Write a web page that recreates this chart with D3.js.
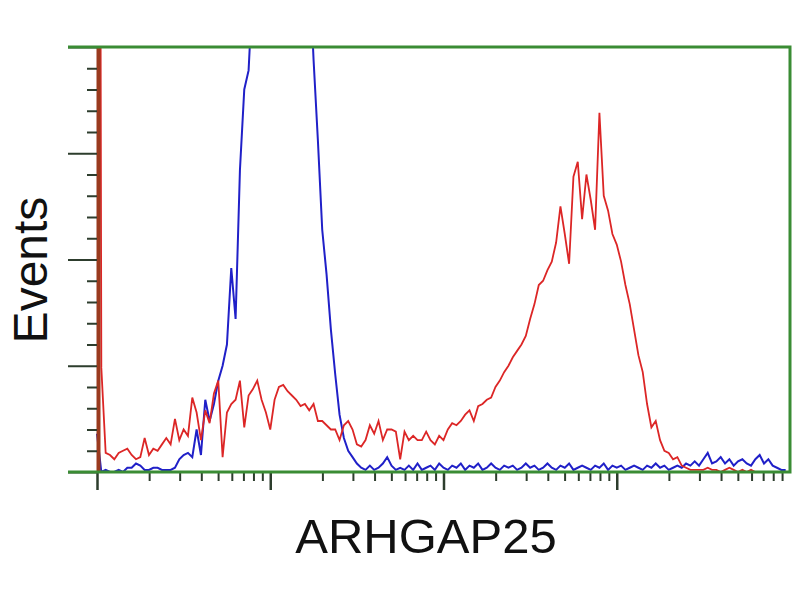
<!DOCTYPE html>
<html>
<head>
<meta charset="utf-8">
<script src="https://cdn.jsdelivr.net/npm/d3@7"></script>
<style>
  body { margin: 0; background: #fff; }
  svg { display: block; }
  text { font-family: "Liberation Sans", Arial, sans-serif; fill: #111; }
</style>
</head>
<body>
<div id="chart"></div>
<script>
// histogram bins: 160 channels, 0.025 decade each, starting at 10^0
const binStep = 0.025;

// red = antibody stained, blue = isotype control (counts per bin)
const redCounts = [
  999, 49, 9, 8, 6, 9, 10, 11, 8, 6,
  7, 16, 8, 11, 10, 13, 16, 13, 25, 15,
  20, 17, 35, 28, 15, 29, 23, 37, 43, 7,
  28, 32, 34, 43, 21, 36, 39, 43, 34, 28,
  20, 34, 40, 41, 38, 36, 34, 31, 32, 29,
  32, 24, 24, 22, 20, 20, 15, 22, 24, 20,
  13, 12, 15, 22, 18, 24, 15, 20, 20, 19,
  6, 19, 15, 17, 15, 15, 19, 15, 13, 17,
  15, 20, 23, 22, 24, 27, 29, 24, 31, 32,
  34, 35, 40, 43, 47, 50, 54, 57, 60, 64,
  72, 79, 88, 90, 95, 99, 108, 125, 112, 98,
  139, 146, 119, 140, 128, 114, 169, 130, 123, 112,
  107, 99, 88, 79, 67, 55, 47, 32, 21, 24,
  15, 10, 9, 6, 7, 3, 2, 1, 1, 1,
  1, 2, 1, 1, 0, 1, 2, 1, 0, 1,
  0, 1, 0, 0, 0, 0, 0, 0, 0, 0
];

const blueCounts = [
  18, 0, 1, 0, 0, 1, 0, 2, 2, 4,
  3, 1, 1, 2, 2, 1, 1, 1, 2, 6,
  8, 9, 7, 20, 8, 34, 24, 32, 43, 50,
  60, 96, 72, 142, 180, 189, 230, 260, 280, 300,
  310, 320, 315, 300, 305, 290, 280, 270, 260, 240,
  194, 156, 114, 93, 67, 46, 27, 16, 10, 7,
  4, 2, 1, 3, 1, 2, 4, 7, 3, 1,
  2, 1, 3, 1, 4, 1, 2, 3, 1, 4,
  2, 1, 3, 2, 4, 1, 3, 2, 4, 1,
  2, 4, 2, 1, 3, 2, 3, 1, 2, 4,
  2, 3, 1, 2, 4, 2, 1, 3, 2, 4,
  1, 2, 3, 2, 1, 3, 2, 4, 1, 3,
  2, 3, 1, 2, 3, 2, 1, 3, 2, 4,
  2, 3, 1, 2, 3, 2, 4, 3, 5, 3,
  6, 9, 4, 5, 7, 4, 6, 3, 5, 6,
  4, 3, 6, 8, 4, 6, 3, 2, 1, 1
];

const xMajorTicks = [1, 10, 100, 1000];
const yMajorTicks = [0, 50, 100, 150, 200];

const width = 800, height = 600;
const margin = { left: 97, right: 10, top: 47, bottom: 128 };
const frameLeft = 68;

const svg = d3.select("#chart").append("svg")
  .attr("width", width)
  .attr("height", height);

const x = d3.scaleLog()
  .domain([1, 10000])
  .range([margin.left, width - margin.right]);

const y = d3.scaleLinear()
  .domain([0, 200])
  .range([height - margin.bottom, margin.top]);

const binValue = i => Math.pow(10, i * binStep);

svg.append("clipPath").attr("id", "plot-clip")
  .append("rect")
  .attr("x", margin.left - 3)
  .attr("y", margin.top)
  .attr("width", x.range()[1] - margin.left + 3)
  .attr("height", y.range()[0] - margin.top);

const line = d3.line()
  .x((d, i) => x(binValue(i)))
  .y(d => y(d));

const plot = svg.append("g").attr("clip-path", "url(#plot-clip)");

plot.append("path")
  .datum(blueCounts)
  .attr("d", line)
  .attr("fill", "none")
  .attr("stroke", "#2020c8")
  .attr("stroke-width", 2);

plot.append("path")
  .datum(redCounts)
  .attr("d", line)
  .attr("fill", "none")
  .attr("stroke", "#dc2626")
  .attr("stroke-width", 1.8);

// left spike looks brownish and thick
plot.append("line")
  .attr("x1", x(1) + 1.5).attr("x2", x(1) + 1.5)
  .attr("y1", y(200)).attr("y2", y(0))
  .attr("stroke", "#9a3a1e")
  .attr("stroke-width", 4);

// y axis ticks
const tickColor = "#2d3d2d";

const yMinor = d3.range(0, 201, 10).filter(v => v % 50 !== 0);
svg.append("g")
  .attr("transform", "translate(" + margin.left + ",0)")
  .call(d3.axisLeft(y).tickValues(yMinor).tickSize(10).tickFormat(""))
  .call(g => g.select(".domain").remove())
  .selectAll("line").attr("stroke", tickColor).attr("stroke-width", 2);

svg.append("g")
  .attr("transform", "translate(" + margin.left + ",0)")
  .call(d3.axisLeft(y).tickValues(yMajorTicks).tickSize(margin.left - frameLeft).tickFormat(""))
  .call(g => g.select(".domain").remove())
  .selectAll("line").attr("stroke", tickColor).attr("stroke-width", 2);

// x axis ticks (log, minor at 2..9)
const xMinor = [];
xMajorTicks.forEach(d => { for (let k = 2; k <= 9; k++) xMinor.push(d * k); });

svg.append("g")
  .attr("transform", "translate(0," + y(0) + ")")
  .call(d3.axisBottom(x).tickValues(xMinor).tickSize(9).tickFormat(""))
  .call(g => g.select(".domain").remove())
  .selectAll("line").attr("stroke", tickColor).attr("stroke-width", 2);

svg.append("g")
  .attr("transform", "translate(0," + y(0) + ")")
  .call(d3.axisBottom(x).tickValues(xMajorTicks).tickSize(18).tickFormat(""))
  .call(g => g.select(".domain").remove())
  .selectAll("line").attr("stroke", tickColor).attr("stroke-width", 2.5);

// green frame
const green = "#3a8c34";
svg.append("path")
  .attr("d", "M" + frameLeft + "," + y(200) + "H" + x(10000) + "V" + y(0) + "H" + frameLeft)
  .attr("fill", "none")
  .attr("stroke", green)
  .attr("stroke-width", 3);

// labels
svg.append("text")
  .attr("x", 426)
  .attr("y", 553)
  .attr("text-anchor", "middle")
  .style("font-size", "49px")
  .text("ARHGAP25");

svg.append("text")
  .attr("transform", "translate(47,270) rotate(-90)")
  .attr("text-anchor", "middle")
  .style("font-size", "48px")
  .text("Events");
</script>
</body>
</html>
